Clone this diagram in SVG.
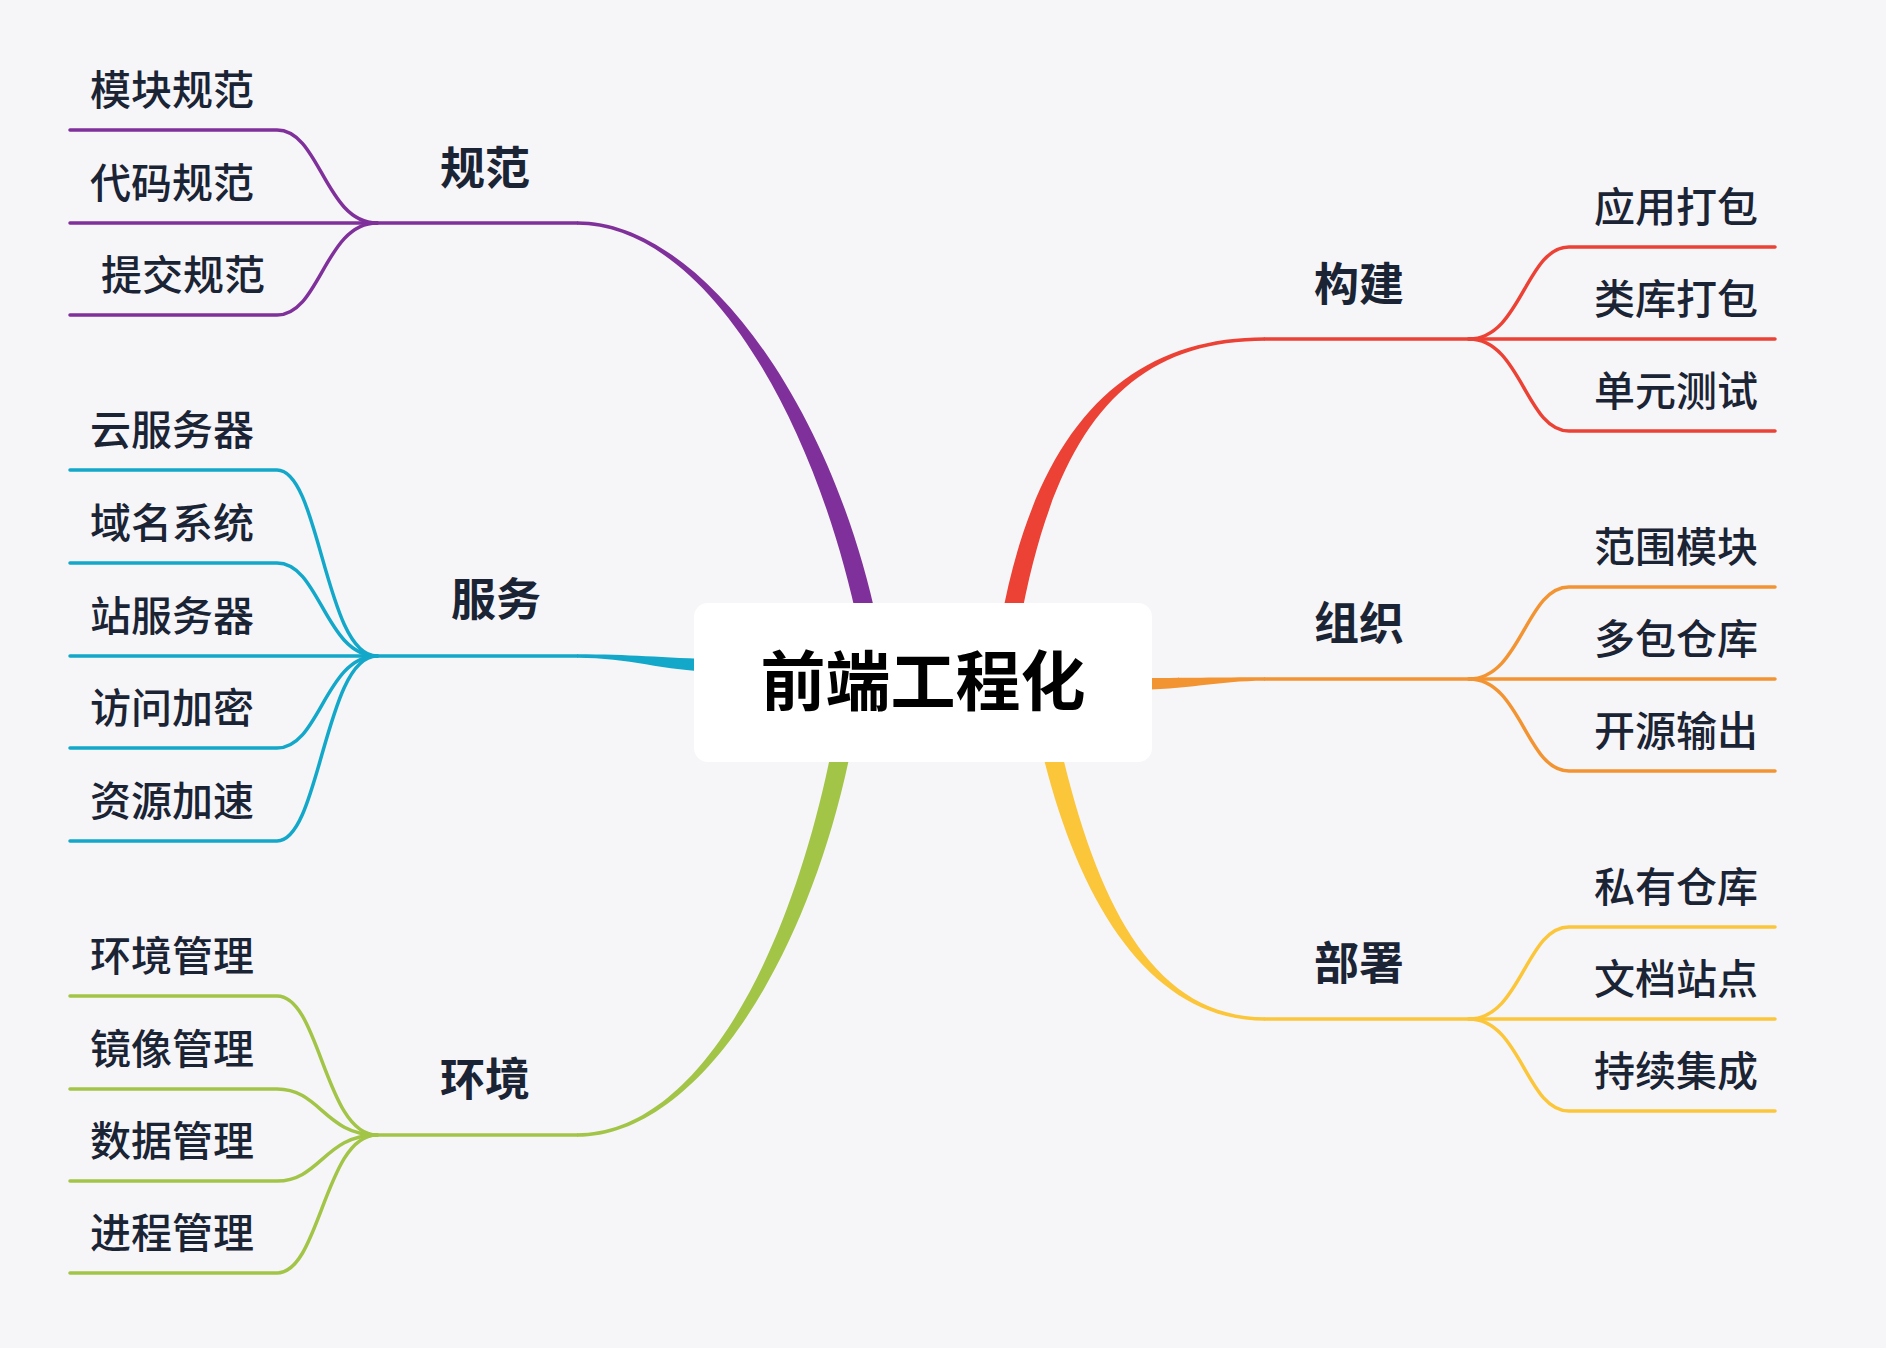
<svg xmlns="http://www.w3.org/2000/svg" width="1886" height="1348" viewBox="0 0 1886 1348">
<style>
.leaf{font-family:"Noto Sans CJK SC","Noto Sans",sans-serif;font-size:41px;font-weight:500;fill:#1b2434;dominant-baseline:central}
.lbl{font-family:"Noto Sans CJK SC","Noto Sans",sans-serif;font-size:45px;font-weight:700;fill:#1b2434;dominant-baseline:central;text-anchor:middle}
.root{font-family:"Noto Sans CJK SC","Noto Sans",sans-serif;font-size:65px;font-weight:700;fill:#000;dominant-baseline:central;text-anchor:middle}
.ln{fill:none;stroke-width:3.5;stroke-linecap:round}
.purple{stroke:#80309a}.cyan{stroke:#13a8c9}.green{stroke:#a2c547}
.red{stroke:#eb4235}.orange{stroke:#f39432}.yellow{stroke:#fbc63a}
</style>
<rect width="1886" height="1348" fill="#f6f6f9"/>
<g id="connectors">
  <path fill="#80309a" d="M577,224.8 C700,224.8 812.7,407 858.7,627 L877.3,623 C831.3,403 700,221.2 577,221.2 Z"/>
  <path fill="#13a8c9" d="M577,657.8 C630,657.8 660,670.5 720,672.5 L720,659.5 C660,657.5 630,654.2 577,654.2 Z"/>
  <path fill="#a2c547" d="M577,1136.8 C700,1136.8 814.35,951.7 854.35,731.7 L835.65,728.3 C795.65,948.3 700,1133.2 577,1133.2 Z"/>
  <path fill="#eb4235" d="M1265,337.2 C1125,337.2 1035.65,428.3 1000.65,623.3 L1019.35,626.7 C1054.35,431.7 1125,340.8 1265,340.8 Z"/>
  <path fill="#f39432" d="M1265,677.2 C1215,677.2 1190,678 1130,678 L1130,690 C1190,690 1215,680.8 1265,680.8 Z"/>
  <path fill="#fbc63a" d="M1265,1017.2 C1150,1017.2 1094.27,897.9 1057.27,732.9 L1038.73,737.1 C1075.73,902.1 1150,1020.8 1265,1020.8 Z"/>
  <g class="ln purple">
    <path d="M577,223 H377"/>
    <path d="M70,130 H277 C320,130 325,223 377,223"/>
    <path d="M70,223 H377"/>
    <path d="M70,315 H277 C320,315 325,223 377,223"/>
  </g>
  <g class="ln cyan">
    <path d="M577,656 H377"/>
    <path d="M70,470 H277 C320,470 325,656 377,656"/>
    <path d="M70,563 H277 C320,563 325,656 377,656"/>
    <path d="M70,656 H377"/>
    <path d="M70,748 H277 C320,748 325,656 377,656"/>
    <path d="M70,841 H277 C320,841 325,656 377,656"/>
  </g>
  <g class="ln green">
    <path d="M577,1135 H377"/>
    <path d="M70,996 H277 C320,996 325,1135 377,1135"/>
    <path d="M70,1089 H277 C320,1089 325,1135 377,1135"/>
    <path d="M70,1181 H277 C320,1181 325,1135 377,1135"/>
    <path d="M70,1273 H277 C320,1273 325,1135 377,1135"/>
  </g>
  <g class="ln red">
    <path d="M1265,339 H1469"/>
    <path d="M1775,247 H1569 C1526,247 1521,339 1469,339"/>
    <path d="M1775,339 H1469"/>
    <path d="M1775,431 H1569 C1526,431 1521,339 1469,339"/>
  </g>
  <g class="ln orange">
    <path d="M1265,679 H1469"/>
    <path d="M1775,587 H1569 C1526,587 1521,679 1469,679"/>
    <path d="M1775,679 H1469"/>
    <path d="M1775,771 H1569 C1526,771 1521,679 1469,679"/>
  </g>
  <g class="ln yellow">
    <path d="M1265,1019 H1469"/>
    <path d="M1775,927 H1569 C1526,927 1521,1019 1469,1019"/>
    <path d="M1775,1019 H1469"/>
    <path d="M1775,1111 H1569 C1526,1111 1521,1019 1469,1019"/>
  </g>
</g>
<g id="root">
  <rect x="694" y="603" width="458" height="159" rx="14" fill="#ffffff"/>
  <text class="root" x="923" y="677">前端工程化</text>
</g>
<g id="guifan"><text class="lbl" x="485" y="165">规范</text></g>
<g id="fuwu"><text class="lbl" x="496" y="596">服务</text></g>
<g id="huanjing"><text class="lbl" x="485" y="1076">环境</text></g>
<g id="goujian"><text class="lbl" x="1359" y="281">构建</text></g>
<g id="zuzhi"><text class="lbl" x="1359" y="620">组织</text></g>
<g id="bushu"><text class="lbl" x="1359" y="960">部署</text></g>
<g id="leaf-mokuaiguifan"><text class="leaf" x="90" y="87">模块规范</text></g>
<g id="leaf-daimaguifan"><text class="leaf" x="90" y="180">代码规范</text></g>
<g id="leaf-tijiaoguifan"><text class="leaf" x="101" y="272">提交规范</text></g>
<g id="leaf-yunfuwuqi"><text class="leaf" x="90" y="427">云服务器</text></g>
<g id="leaf-yumingxitong"><text class="leaf" x="90" y="520">域名系统</text></g>
<g id="leaf-zhanfuwuqi"><text class="leaf" x="90" y="613">站服务器</text></g>
<g id="leaf-fangwenjiami"><text class="leaf" x="90" y="705">访问加密</text></g>
<g id="leaf-ziyuanjiasu"><text class="leaf" x="90" y="798">资源加速</text></g>
<g id="leaf-huanjingguanli"><text class="leaf" x="90" y="953">环境管理</text></g>
<g id="leaf-jingxiangguanli"><text class="leaf" x="90" y="1046">镜像管理</text></g>
<g id="leaf-shujuguanli"><text class="leaf" x="90" y="1138">数据管理</text></g>
<g id="leaf-jinchengguanli"><text class="leaf" x="90" y="1230">进程管理</text></g>
<g id="leaf-yingyongdabao"><text class="leaf" x="1594" y="204">应用打包</text></g>
<g id="leaf-leikudabao"><text class="leaf" x="1594" y="296">类库打包</text></g>
<g id="leaf-danyuanceshi"><text class="leaf" x="1594" y="388">单元测试</text></g>
<g id="leaf-fanweimokuai"><text class="leaf" x="1594" y="544">范围模块</text></g>
<g id="leaf-duobaocangku"><text class="leaf" x="1594" y="636">多包仓库</text></g>
<g id="leaf-kaiyuanshuchu"><text class="leaf" x="1594" y="728">开源输出</text></g>
<g id="leaf-siyoucangku"><text class="leaf" x="1594" y="884">私有仓库</text></g>
<g id="leaf-wendangzhandian"><text class="leaf" x="1594" y="976">文档站点</text></g>
<g id="leaf-chixujicheng"><text class="leaf" x="1594" y="1068">持续集成</text></g>
</svg>
